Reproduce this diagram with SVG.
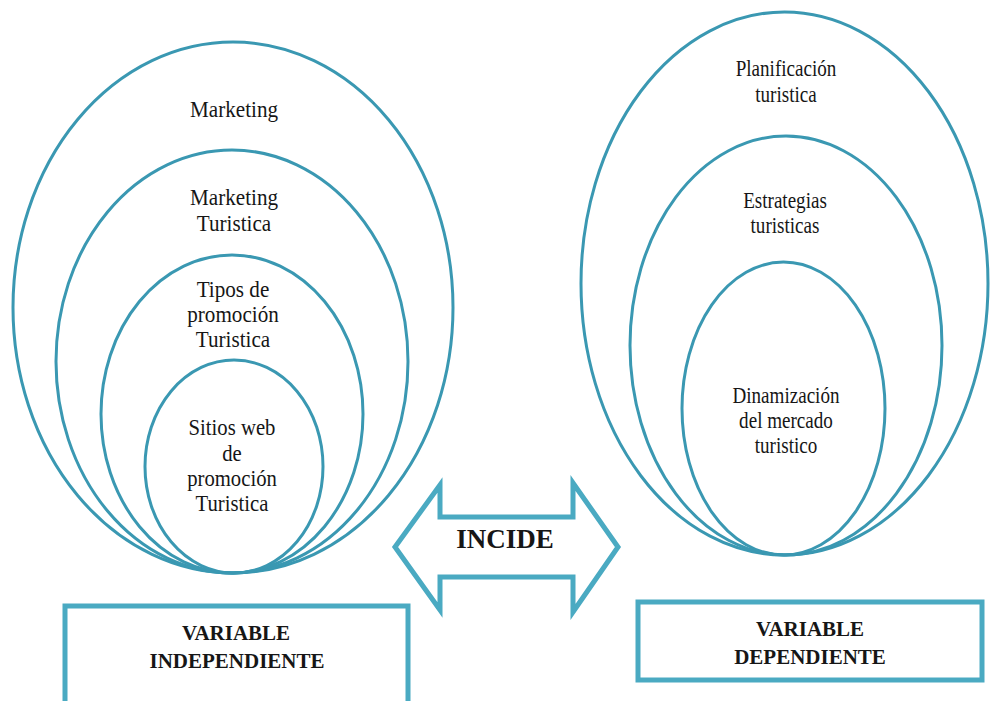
<svg xmlns="http://www.w3.org/2000/svg" width="990" height="701" viewBox="0 0 990 701">
<style>
.ring{fill:none;stroke:#3a98b2;stroke-width:3}
.box{fill:#fff;stroke:#4aaac2;stroke-width:5}
.lbl{font-size:23px;fill:#161616;text-anchor:middle}
.bx{font-size:21px;font-weight:bold;fill:#161616;text-anchor:middle}
</style>
<rect width="990" height="701" fill="#fff"/>
<g font-family="Liberation Serif, Times New Roman, serif">
<g id="left-outer"><ellipse class="ring" cx="233" cy="307.5" rx="220" ry="265.5"/><g transform="translate(234 0) scale(0.92 1)"><text class="lbl" x="0" y="117">Marketing</text></g></g>
<g id="left-2"><ellipse class="ring" cx="232" cy="361.5" rx="176" ry="211.5"/><g transform="translate(234 0) scale(0.92 1)"><text class="lbl" x="0" y="205">Marketing</text><text class="lbl" x="0" y="231">Turistica</text></g></g>
<g id="left-3"><ellipse class="ring" cx="232" cy="414" rx="131" ry="159"/><g transform="translate(233 0) scale(0.92 1)"><text class="lbl" x="0" y="297">Tipos de</text><text class="lbl" x="0" y="322">promoción</text><text class="lbl" x="0" y="347">Turistica</text></g></g>
<g id="left-inner"><ellipse class="ring" cx="234" cy="466.5" rx="89" ry="106.5"/><g transform="translate(232 0) scale(0.9 1)"><text class="lbl" x="0" y="435">Sitios web</text><text class="lbl" x="0" y="461">de</text><text class="lbl" x="0" y="486">promoción</text><text class="lbl" x="0" y="511">Turistica</text></g></g>
<g id="right-outer"><ellipse class="ring" cx="784.5" cy="283.5" rx="203.5" ry="271.5"/><g transform="translate(786 0) scale(0.83 1)"><text class="lbl" x="0" y="76">Planificación</text><text class="lbl" x="0" y="102">turistica</text></g></g>
<g id="right-2"><ellipse class="ring" cx="786" cy="345.5" rx="156" ry="209.5"/><g transform="translate(785 0) scale(0.83 1)"><text class="lbl" x="0" y="208">Estrategias</text><text class="lbl" x="0" y="233">turisticas</text></g></g>
<g id="right-inner"><ellipse class="ring" cx="783.5" cy="408.5" rx="101.5" ry="146.5"/><g transform="translate(786 0) scale(0.83 1)"><text class="lbl" x="0" y="403">Dinamización</text><text class="lbl" x="0" y="428">del mercado</text><text class="lbl" x="0" y="453">turistico</text></g></g>
<g id="connectors">
<g id="incide-arrow"><polygon points="395,547 440,485 440,517 573,517 573,483 618,547 573,612 573,577 440,577 440,610" fill="#fff" stroke="#4aaac2" stroke-width="5" stroke-linejoin="miter"/><text x="505" y="548" font-size="27" font-weight="bold" fill="#161616" text-anchor="middle">INCIDE</text></g>
</g>
<g id="box-independiente"><rect class="box" x="65" y="606" width="343" height="100"/><text class="bx" x="236" y="640">VARIABLE</text><text class="bx" x="237" y="668">INDEPENDIENTE</text></g>
<g id="box-dependiente"><rect class="box" x="638" y="602" width="344" height="78"/><text class="bx" x="810" y="636">VARIABLE</text><text class="bx" x="810" y="664">DEPENDIENTE</text></g>
</g>
</svg>
